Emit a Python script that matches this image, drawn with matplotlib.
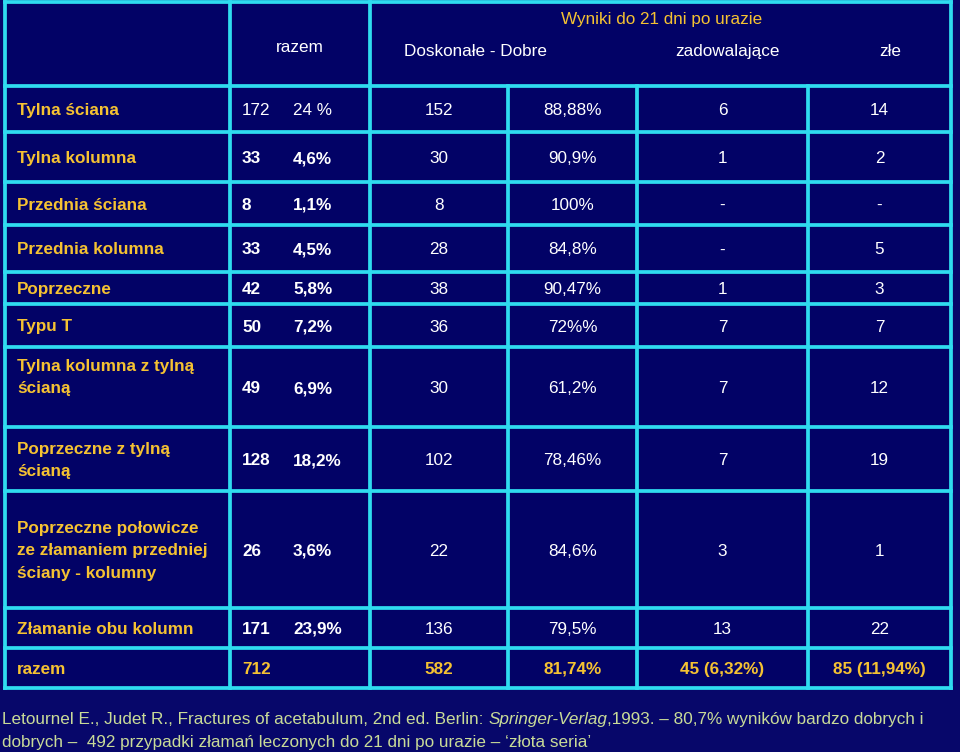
import matplotlib
matplotlib.use("Agg")
import matplotlib.pyplot as plt
from matplotlib.patches import Rectangle

plt.rcParams["font.family"] = ["Liberation Sans", "DejaVu Sans"]

# ---- table data ----
categories = [
    "Tylna ściana",
    "Tylna kolumna",
    "Przednia ściana",
    "Przednia kolumna",
    "Poprzeczne",
    "Typu T",
    "Tylna kolumna z tylną\nścianą",
    "Poprzeczne z tylną\nścianą",
    "Poprzeczne połowicze\nze złamaniem przedniej\nściany - kolumny",
    "Złamanie obu kolumn",
]
counts = ["172", "33", "8", "33", "42", "50", "49", "128", "26", "171"]
shares = ["24 %", "4,6%", "1,1%", "4,5%", "5,8%", "7,2%", "6,9%", "18,2%", "3,6%", "23,9%"]
good_n = ["152", "30", "8", "28", "38", "36", "30", "102", "22", "136"]
good_pct = ["88,88%", "90,9%", "100%", "84,8%", "90,47%", "72%%", "61,2%", "78,46%", "84,6%", "79,5%"]
fair = ["6", "1", "-", "-", "1", "7", "7", "7", "3", "13"]
poor = ["14", "2", "-", "5", "3", "7", "12", "19", "1", "22"]

total_label = "razem"
total_row = ["712", "582", "81,74%", "45 (6,32%)", "85 (11,94%)"]

header_group = "Wyniki do 21 dni po urazie"
header_total = "razem"
header_cols = ["Doskonałe - Dobre", "zadowalające", "złe"]

footnote_1 = ["Letournel E., Judet R., Fractures of acetabulum, 2nd ed. Berlin: ",
              "Springer-Verlag",
              ",1993. – 80,7% wyników bardzo dobrych i"]
footnote_2 = "dobrych –  492 przypadki złamań leczonych do 21 dni po urazie – ‘złota seria’"

# ---- layout (pixel grid) ----
row_edges = [2, 86, 132, 182, 225, 272, 304, 347, 427, 491, 608, 648, 688]
col_edges = [5, 230, 370, 508, 637, 808, 951]

BG = "#07076a"
CELL = "#020266"
LINE = "#2fdcef"
YELLOW = "#f5c232"
WHITE = "#ffffff"
NOTE = "#c9db98"
FS = 12.3
DY = 1.5  # small downward nudge so glyphs sit like the original

fig = plt.figure(figsize=(9.6, 7.52), dpi=100, facecolor=BG)
ax = fig.add_axes([0, 0, 1, 1])
ax.set_xlim(0, 960)
ax.set_ylim(752, 0)
ax.axis("off")

top, bottom = row_edges[0], row_edges[-1]
ax.add_patch(Rectangle((col_edges[0], top), col_edges[-1] - col_edges[0], bottom - top,
                       facecolor=CELL, edgecolor="none"))

lw = 2.7
for y in row_edges:
    ax.plot([col_edges[0], col_edges[-1]], [y, y], color=LINE, lw=lw, solid_capstyle="projecting")
for i, x in enumerate(col_edges):
    y0 = row_edges[1] if i in (3, 4, 5) else top
    ax.plot([x, x], [y0, bottom], color=LINE, lw=lw, solid_capstyle="projecting")

# header
ax.text(662, 18 + DY, header_group, color=YELLOW, fontsize=FS, ha="center", va="center")
ax.text(300, 46 + DY, header_total, color=WHITE, fontsize=FS, ha="center", va="center")
for x, lab in zip([476, 727, 890], header_cols):
    ax.text(x, 50 + DY, lab, color=WHITE, fontsize=FS, ha="center", va="center")

centers = [(col_edges[i] + col_edges[i + 1]) / 2 for i in range(len(col_edges) - 1)]

for r, cat in enumerate(categories):
    yc = (row_edges[r + 1] + row_edges[r + 2]) / 2 + DY
    ylab = yc - 11 if r == 6 else yc
    ax.text(17, ylab, cat, color=YELLOW, fontsize=FS, fontweight="bold",
            ha="left", va="center", linespacing=1.6)
    w = "normal" if r == 0 else "bold"
    ax.text(242, yc, counts[r], color=WHITE, fontsize=FS, fontweight=w, ha="left", va="center")
    ax.text(293, yc, shares[r], color=WHITE, fontsize=FS, fontweight=w, ha="left", va="center")
    for c, vals in zip(centers[2:], [good_n, good_pct, fair, poor]):
        ax.text(c, yc, vals[r], color=WHITE, fontsize=FS, ha="center", va="center")

yc = (row_edges[-2] + row_edges[-1]) / 2 + DY
ax.text(17, yc, total_label, color=YELLOW, fontsize=FS, fontweight="bold", ha="left", va="center")
ax.text(242, yc, total_row[0], color=YELLOW, fontsize=FS, fontweight="bold", ha="left", va="center")
for c, v in zip(centers[2:], total_row[1:]):
    ax.text(c, yc, v, color=YELLOW, fontsize=FS, fontweight="bold", ha="center", va="center")

# footnote with italic publisher
fig.canvas.draw()
renderer = fig.canvas.get_renderer()
x = 2
for k, part in enumerate(footnote_1):
    t = ax.text(x, 718 + DY, part, color=NOTE, fontsize=FS, ha="left", va="center",
                style="italic" if k == 1 else "normal")
    bb = t.get_window_extent(renderer)
    x = ax.transData.inverted().transform((bb.x1, bb.y0))[0]
ax.text(2, 741 + DY, footnote_2, color=NOTE, fontsize=FS, ha="left", va="center")

fig.savefig("out.png", dpi=100, facecolor=BG)
